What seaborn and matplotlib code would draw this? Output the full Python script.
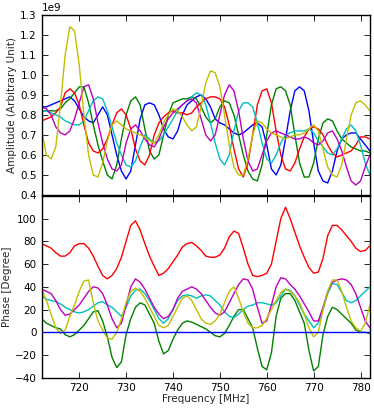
import numpy as np
import pandas as pd
import matplotlib
matplotlib.use("Agg")
import matplotlib.pyplot as plt
import seaborn as sns

freq = list(range(712, 783))

# amplitude traces (x 1e9)
amp_b = [0.84, 0.84, 0.85, 0.86, 0.87, 0.88, 0.89, 0.87, 0.83, 0.79, 0.77, 0.76, 0.80, 0.84, 0.80, 0.70,
         0.60, 0.52, 0.48, 0.52, 0.65, 0.78, 0.85, 0.86, 0.85, 0.80, 0.73, 0.69, 0.68, 0.72, 0.80, 0.85,
         0.87, 0.89, 0.90, 0.88, 0.84, 0.78, 0.76, 0.75, 0.73, 0.71, 0.70, 0.71, 0.73, 0.75, 0.76, 0.74,
         0.65, 0.53, 0.50, 0.55, 0.68, 0.82, 0.92, 0.94, 0.92, 0.82, 0.66, 0.52, 0.47, 0.46, 0.52, 0.62,
         0.68, 0.70, 0.71, 0.71, 0.68, 0.65, 0.62]
amp_g = [0.82, 0.82, 0.82, 0.82, 0.83, 0.86, 0.88, 0.91, 0.94, 0.94, 0.86, 0.75, 0.65, 0.57, 0.50, 0.48,
         0.55, 0.68, 0.80, 0.87, 0.89, 0.85, 0.73, 0.62, 0.58, 0.60, 0.70, 0.80, 0.86, 0.87, 0.88, 0.88,
         0.89, 0.88, 0.84, 0.79, 0.76, 0.78, 0.84, 0.87, 0.86, 0.80, 0.70, 0.60, 0.52, 0.48, 0.47, 0.55,
         0.70, 0.85, 0.93, 0.94, 0.92, 0.85, 0.70, 0.56, 0.49, 0.49, 0.56, 0.68, 0.76, 0.78, 0.77, 0.72,
         0.68, 0.66, 0.64, 0.63, 0.62, 0.62, 0.61]
amp_r = [0.77, 0.78, 0.79, 0.81, 0.84, 0.91, 0.93, 0.91, 0.85, 0.75, 0.66, 0.62, 0.61, 0.63, 0.68, 0.75,
         0.81, 0.83, 0.80, 0.73, 0.63, 0.57, 0.55, 0.60, 0.70, 0.76, 0.79, 0.81, 0.82, 0.81, 0.81, 0.80,
         0.81, 0.84, 0.86, 0.88, 0.89, 0.89, 0.88, 0.84, 0.75, 0.63, 0.53, 0.49, 0.56, 0.70, 0.85, 0.92,
         0.93, 0.86, 0.72, 0.60, 0.53, 0.52, 0.56, 0.63, 0.69, 0.73, 0.74, 0.73, 0.70, 0.65, 0.61, 0.59,
         0.60, 0.61, 0.62, 0.65, 0.69, 0.69, 0.68]
amp_c = [0.82, 0.82, 0.81, 0.80, 0.79, 0.77, 0.76, 0.75, 0.75, 0.77, 0.82, 0.87, 0.89, 0.88, 0.82, 0.74,
         0.66, 0.60, 0.55, 0.54, 0.57, 0.64, 0.70, 0.68, 0.66, 0.67, 0.70, 0.74, 0.78, 0.82, 0.85, 0.87,
         0.89, 0.91, 0.90, 0.85, 0.76, 0.66, 0.58, 0.55, 0.60, 0.72, 0.82, 0.86, 0.86, 0.84, 0.76, 0.66,
         0.58, 0.56, 0.60, 0.66, 0.70, 0.71, 0.72, 0.72, 0.72, 0.73, 0.71, 0.67, 0.64, 0.61, 0.60, 0.63,
         0.68, 0.73, 0.75, 0.72, 0.65, 0.56, 0.50]
amp_m = [0.84, 0.83, 0.80, 0.74, 0.71, 0.70, 0.72, 0.78, 0.86, 0.94, 0.95, 0.88, 0.76, 0.66, 0.58, 0.53,
         0.52, 0.55, 0.66, 0.73, 0.75, 0.72, 0.68, 0.65, 0.64, 0.68, 0.74, 0.78, 0.81, 0.83, 0.85, 0.87,
         0.88, 0.86, 0.78, 0.70, 0.67, 0.70, 0.80, 0.90, 0.95, 0.92, 0.82, 0.68, 0.57, 0.52, 0.53, 0.60,
         0.67, 0.71, 0.72, 0.71, 0.70, 0.69, 0.68, 0.68, 0.69, 0.68, 0.66, 0.65, 0.67, 0.71, 0.72, 0.68,
         0.62, 0.54, 0.47, 0.45, 0.47, 0.54, 0.60]
amp_y = [0.72, 0.60, 0.58, 0.64, 0.85, 1.10, 1.24, 1.22, 1.05, 0.80, 0.60, 0.50, 0.49, 0.56, 0.67, 0.75,
         0.77, 0.75, 0.73, 0.72, 0.71, 0.70, 0.69, 0.67, 0.66, 0.70, 0.76, 0.80, 0.83, 0.82, 0.79, 0.75,
         0.72, 0.74, 0.84, 0.96, 1.02, 1.01, 0.94, 0.80, 0.65, 0.54, 0.50, 0.50, 0.58, 0.70, 0.77, 0.76,
         0.73, 0.71, 0.70, 0.69, 0.68, 0.69, 0.70, 0.70, 0.71, 0.73, 0.75, 0.72, 0.63, 0.54, 0.50, 0.49,
         0.55, 0.68, 0.80, 0.86, 0.87, 0.85, 0.82]

# phase traces in degrees, blue is the reference
ph_b = [0] * 71
ph_g = [12, 8, 6, 4, 3, -2, -4, -2, 2, 6, 12, 18, 19, 10, -4, -22, -31, -26, -2, 12, 22, 26, 24, 16,
        8, -8, -19, -16, -6, 2, 8, 10, 9, 7, 5, 3, 0, -3, -4, -1, 6, 14, 20, 20, 12, 4, -14, -30,
        -33, -18, 14, 30, 34, 34, 28, 18, 8, -16, -34, -30, -2, 14, 22, 20, 16, 12, 8, 2, 0, 0, -1]
ph_r = [78, 76, 74, 70, 67, 67, 70, 76, 78, 78, 74, 67, 58, 50, 47, 50, 56, 66, 80, 94, 98, 90, 78, 67,
        58, 50, 52, 56, 62, 68, 75, 78, 79, 76, 72, 67, 66, 66, 68, 74, 84, 89, 87, 74, 60, 50, 49, 50,
        52, 60, 80, 100, 110, 100, 88, 76, 66, 57, 52, 53, 65, 85, 94, 94, 90, 85, 80, 74, 71, 72, 76]
ph_c = [32, 29, 28, 27, 25, 22, 20, 18, 17, 18, 20, 23, 26, 27, 24, 22, 18, 14, 22, 32, 37, 38, 34, 28,
        20, 12, 8, 12, 20, 28, 32, 33, 32, 30, 32, 33, 32, 28, 24, 18, 14, 13, 16, 20, 23, 24, 26, 26,
        25, 24, 26, 32, 38, 37, 32, 24, 16, 10, 4, 8, 20, 34, 43, 42, 35, 28, 26, 28, 32, 36, 40]
ph_m = [38, 36, 34, 28, 20, 15, 16, 20, 24, 30, 36, 40, 39, 34, 24, 12, 4, 8, 24, 40, 47, 44, 38, 30,
        22, 16, 12, 14, 20, 30, 36, 38, 40, 38, 34, 28, 22, 17, 15, 18, 26, 34, 42, 47, 46, 38, 22, 8,
        10, 24, 40, 48, 47, 42, 38, 32, 25, 18, 10, 10, 22, 36, 44, 46, 47, 46, 42, 34, 22, 10, 4]
ph_y = [38, 28, 16, 4, -1, 2, 14, 24, 36, 45, 46, 26, 10, 2, -5, -6, 0, 12, 26, 36, 39, 36, 30, 22,
        14, 6, 4, 6, 14, 22, 30, 32, 28, 20, 12, 8, 7, 10, 16, 26, 36, 40, 30, 18, 8, 4, 4, 6,
        12, 20, 28, 35, 38, 36, 32, 26, 16, 4, -4, 0, 20, 36, 46, 46, 36, 22, 10, 4, 1, 8, 24]

colors = {'b': (0, 0, 1), 'g': (0, 0.5, 0), 'r': (1, 0, 0),
          'c': (0, 0.75, 0.75), 'm': (0.75, 0, 0.75), 'y': (0.75, 0.75, 0)}
amp = {'b': amp_b, 'g': amp_g, 'r': amp_r, 'c': amp_c, 'm': amp_m, 'y': amp_y}
phase = {'g': ph_g, 'r': ph_r, 'c': ph_c, 'm': ph_m, 'y': ph_y, 'b': ph_b}

sns.set_style("ticks", {'xtick.direction': 'in', 'ytick.direction': 'in'})
plt.rcParams['font.family'] = ['DejaVu Sans']
plt.rcParams['font.size'] = 7.5
plt.rcParams['axes.linewidth'] = 1.0

fig = plt.figure(figsize=(3.74, 4.08), dpi=100)
ax1 = fig.add_axes([0.1115, 0.522, 0.8775, 0.442])
ax2 = fig.add_axes([0.1115, 0.074, 0.8775, 0.446])

for k, v in amp.items():
    sns.lineplot(x=freq, y=np.array(v) * 1e9, color=colors[k], lw=1.0, ax=ax1)
for k, v in phase.items():
    sns.lineplot(x=freq, y=v, color=colors[k], lw=1.0, ax=ax2)

for ax in (ax1, ax2):
    ax.set_xlim(712, 782)
    ax.set_xticks(range(720, 781, 10))
    ax.tick_params(direction='in', top=True, right=True, length=4, width=0.6,
                   labelsize=7.5, colors='black')
    for s in ax.spines.values():
        s.set_color('black')

ax1.set_ylim(0.4e9, 1.3e9)
ax1.set_yticks(np.arange(0.4, 1.31, 0.1) * 1e9)
ax1.ticklabel_format(axis='y', style='sci', scilimits=(0, 0), useMathText=False)
ax1.yaxis.get_offset_text().set_fontsize(7.5)
ax1.set_xticklabels([])
ax1.set_ylabel('Amplitude (Arbitrary Unit)', fontsize=7.5, labelpad=2)

ax2.set_ylim(-40, 120)
ax2.set_yticks(range(-40, 101, 20))
ax2.set_ylabel('Phase [Degree]', fontsize=7.5, labelpad=2)
ax2.set_xlabel('Frequency [MHz]', fontsize=7.5, labelpad=1)

fig.savefig('out.png', dpi=100)
